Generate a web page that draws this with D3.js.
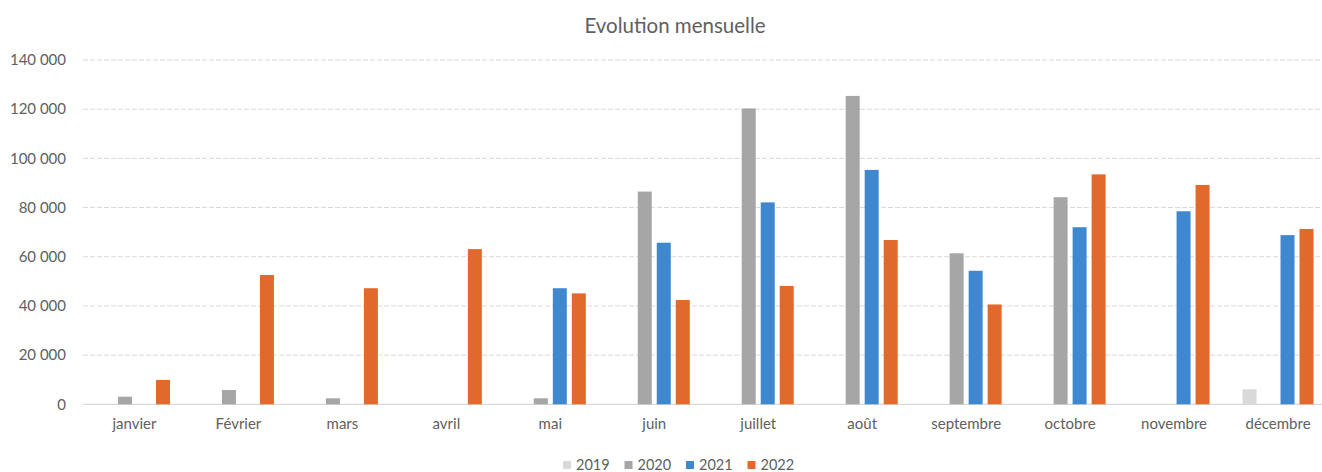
<!DOCTYPE html>
<html><head><meta charset="utf-8">
<script src="https://cdn.jsdelivr.net/npm/d3@7"></script>
<style>html,body{margin:0;padding:0;background:#fff;overflow:hidden}</style>
</head><body><svg id="c" width="1322" height="472"></svg>
<script>
const months = ["janvier","Février","mars","avril","mai","juin","juillet","août","septembre","octobre","novembre","décembre"];
const years = ["2019","2020","2021","2022"];
const v2019 = [null,null,null,null,null,null,null,null,null,null,null,6100];
const v2020 = [3100,5800,2450,null,2450,86500,120300,125400,61400,84200,null,null];
const v2021 = [null,null,null,null,47200,65700,82100,95300,54300,72000,78500,68800];
const v2022 = [9900,52600,47200,63100,45100,42400,48100,66800,40600,93500,89200,71300];
const yTicks = [0,20000,40000,60000,80000,100000,120000,140000];
const colors = ["#d9d9d9","#a6a6a6","#3f88cf","#e2692c"];

const series = [v2019,v2020,v2021,v2022];
const svg = d3.select("#c");
const font = "Lato, 'Open Sans', sans-serif";
const x = d3.scaleBand().domain(months).range([82.5,1330]);
const xs = d3.scaleBand().domain(years).range([-38,38]).paddingInner(5/19).paddingOuter(2.5/19);
const y = d3.scaleLinear().domain([0,140000]).range([404.3,60]);
const fmt = v => d3.format(",")(v).replace(/,/g," ");

// gridlines
svg.append("g").selectAll("line").data(yTicks).join("line")
  .attr("x1",83).attr("x2",1322).attr("y1",d=>y(d)).attr("y2",d=>y(d))
  .attr("stroke",d=>d===0?"#cfcfcf":"#d9d9d9").attr("stroke-width",1)
  .attr("stroke-dasharray",d=>d===0?null:"5,2");

// y axis labels
const ya = svg.append("g").attr("transform","translate(66,0)")
  .call(d3.axisLeft(y).tickValues(yTicks).tickFormat(fmt).tickSize(0).tickPadding(0));
ya.select(".domain").remove();
ya.selectAll("text").attr("font-family",font).attr("font-size",15).attr("fill","#606060");

// x axis labels
const xa = svg.append("g").attr("transform","translate(0,418)")
  .call(d3.axisBottom(x).tickSize(0).tickPadding(0));
xa.select(".domain").remove();
xa.selectAll("text").attr("font-family",font).attr("font-size",15).attr("fill","#606060");

// bars
series.forEach((vals,i)=>{
  svg.append("g").selectAll("rect")
    .data(months.map((m,j)=>({m,v:vals[j]})).filter(d=>d.v!=null))
    .join("rect")
    .attr("x",d=>x(d.m)+x.bandwidth()/2+xs(years[i]))
    .attr("width",xs.bandwidth())
    .attr("y",d=>y(d.v))
    .attr("height",d=>y(0)-y(d.v))
    .attr("fill",colors[i]);
});

// title
svg.append("text").attr("x",675).attr("y",33).attr("text-anchor","middle")
  .attr("font-family",font).attr("font-size",20.5).attr("fill","#606060").text("Evolution mensuelle");

// legend
const lg = svg.append("g");
years.forEach((yr,i)=>{
  const gx = 563 + i*61.5;
  lg.append("rect").attr("x",gx).attr("y",461).attr("width",8).attr("height",8).attr("fill",colors[i]);
  lg.append("text").attr("x",gx+13).attr("y",469.5).attr("font-family",font).attr("font-size",14.5)
    .attr("fill","#606060").text(yr);
});
</script></body></html>
